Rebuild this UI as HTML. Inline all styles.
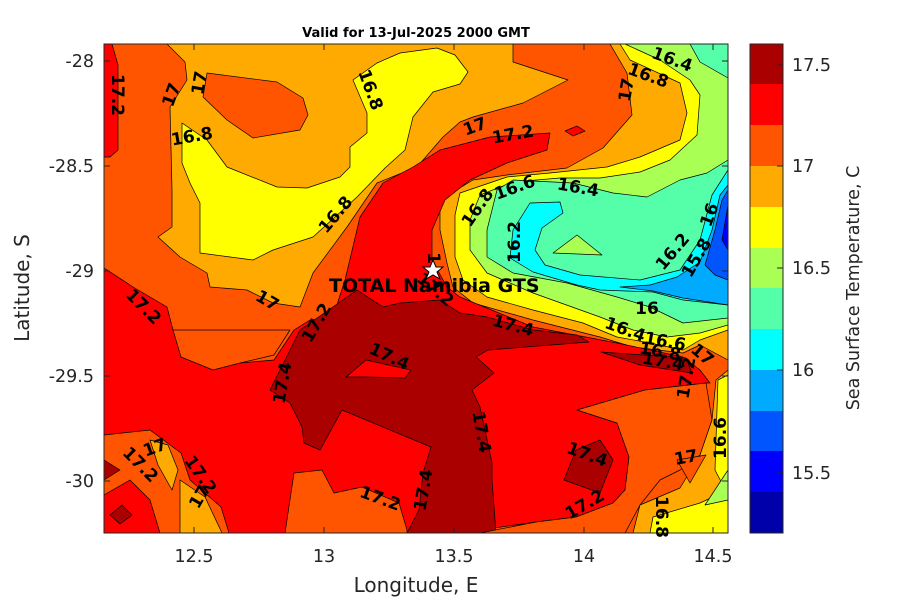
<!DOCTYPE html>
<html><head><meta charset="utf-8"><style>
body{margin:0;background:#fff;}
svg text{font-family:"DejaVu Sans","Liberation Sans",sans-serif;}
.l{font-size:17px;font-weight:bold;fill:#000;text-anchor:middle;dominant-baseline:central;}
.t{font-size:17.5px;fill:#262626;}
</style></head><body>
<svg width="900" height="600" viewBox="0 0 900 600" xmlns="http://www.w3.org/2000/svg">
<defs><clipPath id="c"><rect x="104" y="44" width="624" height="489"/></clipPath></defs>
<rect width="900" height="600" fill="#fff"/>
<g clip-path="url(#c)" stroke="#000" stroke-width="0.7" stroke-linejoin="round">
<rect x="104" y="44" width="624" height="489" fill="#FF5500"/>
<polygon fill="#FF0000" points="104,44 112,44 118,65 118,150 110,157 104,157"/>
<polygon fill="#FFAA00" points="167,44 513,44 513,62 568,80 523,103 473,117 460,122 443,137 417,167 377,183 347,227 313,273 300,307 273,303 247,290 210,287 207,273 180,257 158,237 172,227 172,190 170,107 187,80 185,62"/>
<polygon fill="#FF5500" points="207,73 277,82 303,98 308,115 300,130 253,138 227,120 203,97"/>
<polygon fill="#FFFF00" points="182,123 207,140 227,167 277,187 307,188 340,177 350,167 350,147 367,133 367,113 353,80 377,63 400,53 437,48 455,55 468,72 460,84 433,92 413,117 405,150 385,168 357,197 313,237 273,250 253,260 200,253 200,203 190,183 182,163"/>
<polygon fill="#FFAA00" points="610,44 728,44 728,360 700,345 683,353 633,347 600,337 533,320 473,303 453,287 447,263 440,230 440,200 473,180 507,175 567,168 603,148 632,115 627,73"/>
<polygon fill="#FFFF00" points="620,44 728,44 728,330 700,340 683,350 650,343 617,337 583,323 533,310 487,297 463,280 455,257 455,215 460,193 507,177 550,173 607,167 640,157 680,140 687,113 680,83 630,60"/>
<polygon fill="#AAFF55" points="625,44 728,44 728,325 700,333 667,337 633,330 600,317 533,293 487,273 470,250 470,220 480,195 513,182 560,178 600,178 640,172 670,160 697,135 700,95 690,80 660,60"/>
<polygon fill="#55FFAA" points="690,44 728,44 728,78 700,62"/>
<polygon fill="#55FFAA" points="728,160 707,173 680,180 647,197 613,193 573,183 513,180 497,190 487,230 487,257 513,273 567,283 617,297 650,307 683,323 728,318"/>
<polygon fill="#AAFF55" points="553,253 577,235 602,255"/>
<polygon fill="#00FFFF" points="530,203 560,202 563,213 542,228 535,250 545,265 580,275 640,280 680,270 700,240 712,195 728,170 728,305 683,300 653,292 600,290 577,285 533,272 510,258 513,230"/>
<polygon fill="#00AAFF" points="620,287 650,285 677,277 700,262 712,230 720,195 728,185 728,305 683,298 653,291"/>
<polygon fill="#0055FF" points="705,265 715,230 722,200 728,190 728,280 715,275"/>
<polygon fill="#0000FF" points="722,240 728,205 728,250"/>
<polygon fill="#FF0000" points="104,268 133,287 167,307 173,330 200,357 240,363 274,360 294,330 310,320 333,317 345,280 360,217 383,183 413,167 440,150 490,137 550,133 547,150 507,163 470,180 445,200 432,230 432,260 447,287 460,297 533,327 617,343 683,357 700,370 710,383 706,383 645,390 577,410 617,423 629,457 625,490 613,503 576,517 536,522 480,530 480,533 104,533"/>
<polygon fill="#FF0000" points="565,131 577,126 585,131 573,136"/>
<polygon fill="#AA0000" points="300,330 357,290 383,307 400,303 440,300 460,313 487,317 533,330 577,335 589,342 488,350 476,357 494,373 472,390 480,407 492,463 492,480 496,533 407,533 419,510 423,473 431,447 342,410 320,450 304,443 302,427 290,403 270,390"/>
<polygon fill="#FF0000" points="346,377 366,360 411,370 405,378 366,377"/>
<polygon fill="#AA0000" points="601,352 686,358 692,373 640,365"/>
<polygon fill="#AA0000" points="564,480 576,450 600,440 613,460 600,493"/>
<polygon fill="#FF5500" points="173,330 181,357 213,370 240,363 274,355 290,330"/>
<polygon fill="#FF5500" points="104,435 150,430 181,453 190,480 221,507 229,533 104,533"/>
<polygon fill="#FF0000" points="104,495 130,480 150,500 160,533 104,533"/>
<polygon fill="#AA0000" points="110,515 122,505 132,515 120,524"/>
<polygon fill="#AA0000" points="104,460 120,470 104,480"/>
<polygon fill="#FFAA00" points="150,440 168,445 178,470 172,490 158,465"/>
<polygon fill="#FFAA00" points="180,480 205,497 222,533 180,533"/>
<polygon fill="#FF5500" points="294,473 322,470 334,493 362,487 399,503 407,530 407,533 285,533"/>
<polygon fill="#FF5500" points="577,410 645,390 706,383 712,420 700,455 680,470 660,480 640,505 625,533 480,533 536,522 576,517 613,503 625,490 629,457 617,423"/>
<polygon fill="#FFAA00" points="633,533 640,505 680,488 700,455 712,420 716,380 728,370 728,533"/>
<polygon fill="#FF5500" points="677,460 706,455 690,483"/>
<polygon fill="#FFFF00" points="718,380 728,375 728,495 715,470"/>
<polygon fill="#FFFF00" points="650,533 653,517 700,503 728,490 728,533"/>
<polygon fill="#AAFF55" points="705,505 728,470 728,500"/>
</g>
<rect x="104" y="44" width="624" height="489" fill="none" stroke="#262626" stroke-width="1"/>
<g stroke="#262626" stroke-width="1">
<line x1="194" y1="533" x2="194" y2="527"/><line x1="324" y1="533" x2="324" y2="527"/><line x1="454" y1="533" x2="454" y2="527"/><line x1="584" y1="533" x2="584" y2="527"/><line x1="713" y1="533" x2="713" y2="527"/>
<line x1="194" y1="44" x2="194" y2="50"/><line x1="324" y1="44" x2="324" y2="50"/><line x1="454" y1="44" x2="454" y2="50"/><line x1="584" y1="44" x2="584" y2="50"/><line x1="713" y1="44" x2="713" y2="50"/>
<line x1="104" y1="61" x2="110" y2="61"/><line x1="104" y1="166" x2="110" y2="166"/><line x1="104" y1="271" x2="110" y2="271"/><line x1="104" y1="376" x2="110" y2="376"/><line x1="104" y1="481" x2="110" y2="481"/>
<line x1="728" y1="61" x2="722" y2="61"/><line x1="728" y1="166" x2="722" y2="166"/><line x1="728" y1="271" x2="722" y2="271"/><line x1="728" y1="376" x2="722" y2="376"/><line x1="728" y1="481" x2="722" y2="481"/>
</g>
<g class="l">
<text class="l" transform="translate(117,95) rotate(90)">17.2</text>
<text class="l" transform="translate(172,95) rotate(-70)">17</text>
<text class="l" transform="translate(200,83) rotate(-80)">17</text>
<text class="l" transform="translate(192,137) rotate(-10)">16.8</text>
<text class="l" transform="translate(370,90) rotate(70)">16.8</text>
<text class="l" transform="translate(336,215) rotate(-50)">16.8</text>
<text class="l" transform="translate(475,127) rotate(-20)">17</text>
<text class="l" transform="translate(513,135) rotate(-10)">17.2</text>
<text class="l" transform="translate(627,90) rotate(-80)">17</text>
<text class="l" transform="translate(648,76) rotate(20)">16.8</text>
<text class="l" transform="translate(672,60) rotate(20)">16.4</text>
<text class="l" transform="translate(478,208) rotate(-55)">16.8</text>
<text class="l" transform="translate(515,188) rotate(-20)">16.6</text>
<text class="l" transform="translate(578,188) rotate(10)">16.4</text>
<text class="l" transform="translate(515,242) rotate(-90)">16.2</text>
<text class="l" transform="translate(673,252) rotate(-50)">16.2</text>
<text class="l" transform="translate(697,258) rotate(-60)">15.8</text>
<text class="l" transform="translate(710,215) rotate(-70)">16</text>
<text class="l" transform="translate(143,307) rotate(45)">17.2</text>
<text class="l" transform="translate(267,301) rotate(30)">17</text>
<text class="l" transform="translate(317,323) rotate(-60)">17.2</text>
<text class="l" transform="translate(435,290) rotate(40)">17.2</text>
<text class="l" transform="translate(433,258) rotate(90)">1</text>
<text class="l" transform="translate(513,326) rotate(15)">17.4</text>
<text class="l" transform="translate(647,309)">16</text>
<text class="l" transform="translate(625,330) rotate(20)">16.4</text>
<text class="l" transform="translate(665,342) rotate(10)">16.6</text>
<text class="l" transform="translate(660,352) rotate(10)">16.8</text>
<text class="l" transform="translate(663,362) rotate(10)">17.4</text>
<text class="l" transform="translate(702,355) rotate(40)">17</text>
<text class="l" transform="translate(687,378) rotate(-80)">17.2</text>
<text class="l" transform="translate(389,357) rotate(25)">17.4</text>
<text class="l" transform="translate(283,383) rotate(-80)">17.4</text>
<text class="l" transform="translate(481,432) rotate(80)">17.4</text>
<text class="l" transform="translate(155,448) rotate(-20)">17</text>
<text class="l" transform="translate(140,465) rotate(45)">17.2</text>
<text class="l" transform="translate(200,475) rotate(55)">17.2</text>
<text class="l" transform="translate(200,497) rotate(-60)">17</text>
<text class="l" transform="translate(380,499) rotate(20)">17.2</text>
<text class="l" transform="translate(424,490) rotate(-80)">17.4</text>
<text class="l" transform="translate(587,455) rotate(20)">17.4</text>
<text class="l" transform="translate(585,505) rotate(-30)">17.2</text>
<text class="l" transform="translate(686,458) rotate(-10)">17</text>
<text class="l" transform="translate(721,438) rotate(-90)">16.6</text>
<text class="l" transform="translate(661,517) rotate(90)">16.8</text>
</g>
<polygon points="433,260 436,267 443,267 437,272 440,279 433,275 426,279 429,272 423,267 430,267" fill="#fff" stroke="#000" stroke-width="1"/>
<text x="329" y="286" style="font-size:19px;font-weight:bold;fill:#000;dominant-baseline:central;">TOTAL Namibia GTS</text>
<text x="416" y="37" style="font-size:13px;font-weight:bold;fill:#000;text-anchor:middle;">Valid for 13-Jul-2025 2000 GMT</text>
<g class="t" text-anchor="middle">
<text x="194" y="562">12.5</text><text x="324" y="562">13</text><text x="454" y="562">13.5</text><text x="584" y="562">14</text><text x="713" y="562">14.5</text>
</g>
<g class="t" text-anchor="end">
<text x="94" y="67">-28</text><text x="94" y="172">-28.5</text><text x="94" y="277">-29</text><text x="94" y="382">-29.5</text><text x="94" y="487">-30</text>
</g>
<text x="416" y="592" style="font-size:20px;fill:#262626;text-anchor:middle;">Longitude, E</text>
<text transform="translate(29,288) rotate(-90)" style="font-size:20px;fill:#262626;text-anchor:middle;">Latitude, S</text>
<g>
<rect x="750" y="44" width="33" height="41" fill="#AA0000"/>
<rect x="750" y="84" width="33" height="41" fill="#FF0000"/>
<rect x="750" y="125" width="33" height="41" fill="#FF5500"/>
<rect x="750" y="166" width="33" height="41" fill="#FFAA00"/>
<rect x="750" y="207" width="33" height="41" fill="#FFFF00"/>
<rect x="750" y="248" width="33" height="40" fill="#AAFF55"/>
<rect x="750" y="288" width="33" height="41" fill="#55FFAA"/>
<rect x="750" y="329" width="33" height="41" fill="#00FFFF"/>
<rect x="750" y="370" width="33" height="41" fill="#00AAFF"/>
<rect x="750" y="411" width="33" height="40" fill="#0055FF"/>
<rect x="750" y="451" width="33" height="41" fill="#0000FF"/>
<rect x="750" y="492" width="33" height="41" fill="#0000AA"/>
<rect x="750" y="44" width="33" height="489" fill="none" stroke="#262626" stroke-width="1"/>
<g stroke="#262626"><line x1="777" y1="65" x2="783" y2="65"/><line x1="777" y1="166" x2="783" y2="166"/><line x1="777" y1="268" x2="783" y2="268"/><line x1="777" y1="370" x2="783" y2="370"/><line x1="777" y1="473" x2="783" y2="473"/></g>
</g>
<g class="t">
<text x="792" y="71">17.5</text><text x="792" y="172">17</text><text x="792" y="274">16.5</text><text x="792" y="376">16</text><text x="792" y="479">15.5</text>
</g>
<text transform="translate(859,288) rotate(-90)" style="font-size:17.5px;fill:#262626;text-anchor:middle;">Sea Surface Temperature, C</text>
</svg>
</body></html>
